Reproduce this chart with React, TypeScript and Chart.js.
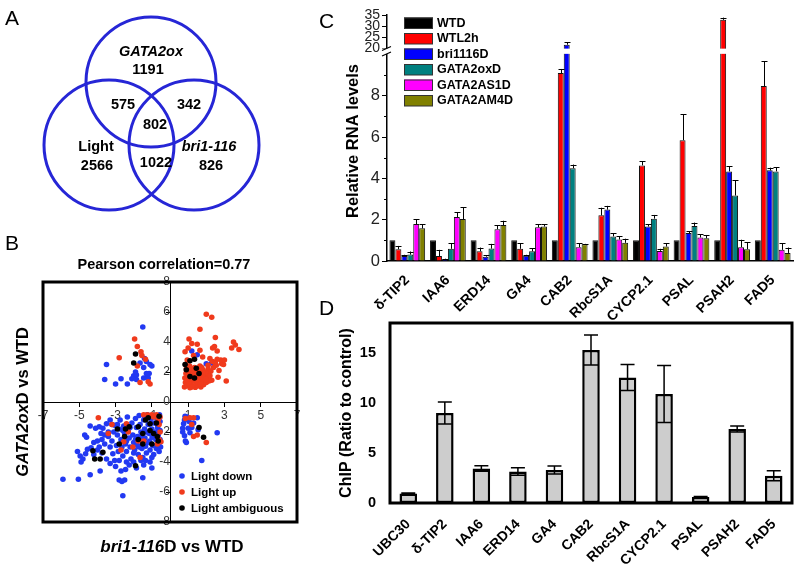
import React, { useEffect, useRef } from 'react';
import { Chart, registerables, LinearScale } from 'chart.js';

Chart.register(...registerables);

const FONT = '"Liberation Sans", Arial, Helvetica, sans-serif';

// ---------------- Panel A (Venn) data ----------------
const vennSetNames = ['GATA2ox', 'Light', 'bri1-116'];
const vennSetItalic = [true, false, true];
// regions: GATA2ox only, GATA2ox&Light, GATA2ox&bri, all three, Light only, Light&bri, bri only
const vennRegionCounts = [1191, 575, 342, 802, 2566, 1022, 826];

// ---------------- Panel B (scatter) data ----------------
const pearsonR = 0.77;
const scatterSeriesNames = ['Light down', 'Light up', 'Light ambiguous'];
const lightDown: number[][] = [
  [-1.5, 5.0], [-3.5, 2.5], [-3.6, 1.5], [-3.0, 1.2], [-2.7, 1.55], [-2.35, 1.2], [-2.1, 1.55], [-2.0, 1.75],
  [-1.85, 1.8], [-1.9, 2.0], [-1.65, 2.6], [-1.4, 2.9], [-1.3, 2.7], [-1.1, 2.5], [-1.45, 2.3], [-1.45, 1.6],
  [-1.25, 1.75], [-1.15, 1.9], [-1.2, 1.6], [-1.85, 1.5], [-1.0, 2.4], [-1.3, 1.9],
  [1.2, 3.4], [2.3, 2.6], [2.0, 2.55], [1.5, 3.15],
  [0.83, -0.95], [0.8, -1.2], [0.75, -1.45], [0.7, -1.75], [0.7, -2.0], [0.8, -2.25], [0.85, -2.6], [0.9, -2.7],
  [1.0, -1.75], [1.1, -2.05], [1.2, -1.7], [1.3, -1.4], [1.5, -1.05], [1.55, -1.85], [2.6, -2.05], [1.75, -3.9],
  [1.05, -1.3], [0.95, -1.0],
  [-5.9, -5.15], [-5.05, -5.15], [-4.4, -4.85], [-3.85, -4.6], [-2.6, -6.25], [-2.8, -5.2], [-2.65, -5.3], [-2.5, -5.2],
  [-1.5, -5.05], [-4.9, -4.0], [-5.1, -3.3], [-4.95, -3.6], [-4.8, -3.8], [-4.65, -3.45], [-4.55, -3.15], [-4.35, -3.05],
  [-4.2, -3.5], [-4.0, -3.2], [-3.75, -3.4], [-3.5, -3.8], [-3.3, -4.1], [-3.05, -3.9], [-3.0, -4.3], [-2.7, -4.6],
  [-2.45, -4.5], [-2.25, -4.2], [-1.85, -4.4], [-1.45, -4.2], [-1.35, -3.9], [-1.1, -4.0], [-1.0, -3.7], [-1.0, -4.4],
  [-4.7, -2.2], [-4.6, -2.35], [-4.4, -1.6], [-4.1, -1.75], [-3.9, -1.65], [-3.7, -1.75], [-3.5, -1.45], [-3.2, -1.5],
  [-3.05, -1.55], [-2.8, -1.8], [-4.2, -2.7], [-4.0, -2.6], [-3.75, -2.5], [-3.6, -2.8], [-3.4, -2.3], [-3.2, -2.6],
  [-3.1, -2.0], [-2.9, -2.2], [-2.95, -2.9], [-2.85, -3.3], [-2.75, -1.2], [-2.7, -2.5], [-2.65, -3.0], [-2.6, -3.6],
  [-2.55, -1.6], [-2.5, -2.1], [-2.45, -2.8], [-2.4, -3.3], [-2.35, -1.0], [-2.3, -1.9], [-2.25, -2.4], [-2.2, -3.0],
  [-2.15, -3.8], [-2.1, -1.4], [-2.05, -2.2], [-2.0, -2.7], [-1.95, -3.2], [-1.9, -1.1], [-1.85, -1.7], [-1.8, -2.3],
  [-1.78, -2.9], [-1.75, -3.5], [-1.7, -0.9], [-1.65, -1.5], [-1.6, -2.0], [-1.58, -2.6], [-1.55, -3.1], [-1.5, -3.7],
  [-1.45, -1.2], [-1.4, -1.8], [-1.38, -2.4], [-1.35, -2.95], [-1.3, -3.4], [-1.25, -0.85], [-1.2, -1.5], [-1.15, -2.1],
  [-1.12, -2.6], [-1.1, -3.2], [-1.05, -1.1], [-1.0, -1.8], [-0.98, -2.35], [-0.95, -2.9], [-0.9, -3.5], [-0.88, -0.9],
  [-0.85, -1.4], [-0.8, -2.0], [-0.78, -2.5], [-0.75, -3.1], [-0.7, -1.1], [-0.68, -1.7], [-0.65, -2.2], [-0.62, -2.8],
  [-0.6, -3.3], [-0.58, -0.85], [-0.55, -1.3], [-0.55, -1.9], [-0.55, -2.5], [-0.52, -3.0], [-2.6, -1.9], [-2.2, -1.7],
  [-1.9, -2.5], [-1.6, -2.3], [-1.3, -2.0], [-1.0, -1.4], [-0.7, -1.5], [-2.4, -2.6], [-2.0, -3.4], [-1.7, -3.0],
  [-1.2, -2.7], [-0.9, -2.2], [-3.3, -3.0], [-3.15, -3.45], [-2.8, -3.9], [-2.4, -4.0], [-2.0, -4.0], [-1.6, -3.9],
  [-3.4, -2.0], [-3.6, -2.2], [-3.8, -2.1], [-3.9, -3.0], [-3.3, -1.2], [-2.9, -1.5], [-1.4, -1.0], [-1.1, -1.05],
  [-0.85, -1.0],
];
const lightUp: number[][] = [
  [-1.95, 4.2], [-1.8, 3.7], [-1.6, 3.35], [-1.55, 3.1], [-1.35, 2.85], [-2.8, 2.95], [-1.8, 2.4], [-1.65, 1.3],
  [-1.2, 1.35], [-1.1, 1.2],
  [2.0, 5.85], [2.3, 5.65], [1.65, 4.85], [2.5, 4.3], [1.05, 4.2], [1.2, 3.9], [1.5, 3.85], [0.83, 3.35],
  [1.65, 3.45], [2.35, 3.6], [2.45, 3.7], [2.6, 3.4], [3.5, 4.0], [3.6, 3.8], [3.4, 3.6], [3.8, 3.5],
  [3.1, 1.4], [2.65, 1.65], [2.3, 1.45], [2.7, 2.1], [2.55, 2.45], [2.85, 2.55], [2.95, 2.5], [2.35, 2.7],
  [2.1, 2.2], [1.9, 1.9], [1.7, 1.7], [2.8, 2.8], [2.6, 2.85], [3.0, 2.8], [1.3, 3.1], [1.0, 3.6],
  [0.95, 2.8], [1.8, 3.0], [2.2, 2.9],
  [0.8, 1.0], [0.85, 1.3], [0.82, 1.6], [0.88, 1.9], [0.9, 2.2], [0.95, 1.1], [1.0, 1.45], [1.02, 1.75],
  [1.05, 2.05], [1.08, 2.4], [1.1, 0.95], [1.12, 1.25], [1.15, 1.55], [1.18, 1.85], [1.2, 2.15], [1.25, 1.05],
  [1.28, 1.4], [1.3, 1.7], [1.32, 2.0], [1.35, 2.3], [1.4, 0.98], [1.42, 1.3], [1.45, 1.6], [1.48, 1.9],
  [1.5, 2.2], [1.55, 1.1], [1.58, 1.45], [1.6, 1.75], [1.62, 2.05], [1.65, 2.4], [1.7, 1.0], [1.72, 1.3],
  [1.75, 1.55], [1.78, 1.85], [1.8, 2.15], [1.85, 1.15], [1.88, 1.45], [1.9, 1.7], [1.95, 2.0], [2.0, 1.3],
  [2.05, 1.6], [2.1, 1.9], [2.15, 1.4], [2.2, 1.75], [2.25, 2.05], [0.87, 2.5], [0.92, 1.45], [1.05, 1.2],
  [1.22, 1.0], [1.38, 1.5], [1.52, 1.35], [1.68, 1.2], [1.82, 1.6], [1.97, 1.5], [1.12, 1.7], [1.27, 1.9],
  [1.43, 2.05], [1.6, 1.9], [1.75, 2.3], [2.4, 2.3], [2.5, 2.6], [2.1, 2.45],
  [-3.95, -1.05], [-3.2, -1.5], [-3.4, -2.1], [-1.65, -3.7], [-2.55, -2.65], [-2.4, -1.45], [-1.45, -0.85], [-1.25, -0.85],
  [-1.0, -0.85], [-0.75, -0.85], [-0.55, -1.0], [-0.6, -1.5], [-0.55, -2.0], [-0.6, -2.5], [-0.7, -2.8], [-0.5, -2.65],
  [-2.3, -2.0], [-2.05, -3.0], [-2.7, -3.2], [-1.75, -2.6], [-1.45, -2.6], [-0.9, -1.0], [-1.15, -0.9], [-0.65, -1.2],
  [0.85, -1.1], [1.1, -1.05], [1.3, -1.05], [1.2, -1.5], [1.3, -2.3], [1.5, -2.2], [2.0, -2.7],
];
const lightAmbiguous: number[][] = [
  [-1.9, 3.2], [-2.0, 2.6],
  [0.83, 2.5], [1.1, 2.75], [1.35, 2.85], [0.9, 2.15], [1.45, 2.25], [1.6, 1.9], [1.1, 1.7], [1.35, 1.6],
  [-4.25, -3.25], [-3.85, -3.8], [-4.15, -3.8], [-3.7, -3.35], [-1.9, -4.25], [-2.9, -1.8], [-2.45, -1.8], [-2.25, -1.65],
  [-1.75, -1.65], [-1.35, -1.2], [-1.1, -1.45], [-0.75, -1.4], [-1.1, -1.9], [-1.5, -2.1], [-1.75, -2.5], [-0.9, -2.1],
  [-0.7, -2.3], [-1.5, -2.8], [-1.0, -2.8], [-0.65, -2.6], [-2.5, -2.3], [-2.8, -2.8], [-0.6, -0.95], [-1.2, -1.05],
  [1.6, -1.7], [1.85, -2.35],
];

// ---------------- Panel C (relative RNA levels) data ----------------
const rnaGenes = ['δ-TIP2', 'IAA6', 'ERD14', 'GA4', 'CAB2', 'RbcS1A', 'CYCP2.1', 'PSAL', 'PSAH2', 'FAD5'];
const rnaSeriesNames = ['WTD', 'WTL2h', 'bri1116D', 'GATA2oxD', 'GATA2AS1D', 'GATA2AM4D'];
const rnaWTD = [1, 1, 1, 1, 1, 1, 1, 1, 1, 1];
const rnaWTDErr = [0, 0, 0, 0, 0, 0, 0, 0, 0, 0];
const rnaWTL2h = [0.57, 0.24, 0.47, 0.59, 9.1, 2.21, 4.63, 5.85, 32.8, 8.47];
const rnaWTL2hErr = [0.16, 0.3, 0.18, 0.28, 0.2, 0.37, 0.21, 1.26, 1.0, 1.2];
const rnaBri = [0.24, 0.08, 0.21, 0.26, 21.5, 2.49, 1.67, 1.35, 4.34, 4.39];
const rnaBriErr = [0.06, 0.03, 0.08, 0.04, 1.2, 0.18, 0.1, 0.08, 0.26, 0.13];
const rnaGata2ox = [0.31, 0.59, 0.6, 0.47, 4.49, 1.19, 2.05, 1.7, 3.17, 4.34];
const rnaGata2oxErr = [0.15, 0.28, 0.23, 0.15, 0.18, 0.16, 0.18, 0.16, 0.73, 0.21];
const rnaAS1D = [1.79, 2.13, 1.54, 1.63, 0.67, 1.04, 0.49, 1.14, 0.67, 0.54];
const rnaAS1DErr = [0.24, 0.24, 0.18, 0.15, 0.2, 0.15, 0.1, 0.16, 0.36, 0.33];
const rnaAM4D = [1.58, 2.03, 1.74, 1.67, 0.81, 0.88, 0.7, 1.1, 0.57, 0.39];
const rnaAM4DErr = [0.21, 0.57, 0.21, 0.1, 0.02, 0.2, 0.16, 0.16, 0.33, 0.26];
const rnaYTicks = [0, 2, 4, 6, 8, 20, 25, 30, 35];
const rnaMinorTicks = [1, 3, 5, 7, 9];

// ---------------- Panel D (ChIP) data ----------------
const chipGenes = ['UBC30', 'δ-TIP2', 'IAA6', 'ERD14', 'GA4', 'CAB2', 'RbcS1A', 'CYCP2.1', 'PSAL', 'PSAH2', 'FAD5'];
const chipValues = [0.95, 9.0, 3.45, 3.15, 3.3, 15.3, 12.55, 10.9, 0.6, 7.4, 2.72];
const chipErrors = [0.05, 1.1, 0.27, 0.38, 0.4, 1.5, 1.3, 2.85, 0.05, 0.3, 0.5];
const chipYTicks = [0, 5, 10, 15];

// ---------------- styles / layout ----------------
const VENN_BLUE = '#2626d6';
const VENN_R = 65;
const vennCircleCenters = [{ x: 151, y: 82 }, { x: 109, y: 145 }, { x: 194, y: 145 }];
const vennSetNamePos = [[151, 52], [96, 147], [209, 147]];
const vennCountPos = [[148, 70], [123, 105], [189, 105], [155, 125], [97, 166], [156, 163], [211, 166]];

const SCATTER_COLORS = ['#2239f2', '#f03a1c', '#000000'];
const RNA_COLORS = ['#000000', '#ff0000', '#0000ff', '#008080', '#ff00ff', '#808000'];

// broken axis layout for panel C: value ranges and pixel weights
const BREAK_LAYOUT = [
  { from: 0, to: 10, weight: 206.5 },
  { from: 10, to: 20, weight: 6.5 },
  { from: 20, to: 35, weight: 33 },
];

class BrokenLinearScale extends (LinearScale as any) {
  static id = 'brokenLinear';
  getPixelForValue(value: number) {
    const total = BREAK_LAYOUT.reduce((a, s) => a + s.weight, 0);
    let acc = 0;
    for (let i = 0; i < BREAK_LAYOUT.length; i++) {
      const s = BREAK_LAYOUT[i];
      if (value <= s.to || i === BREAK_LAYOUT.length - 1) {
        acc += ((value - s.from) / (s.to - s.from)) * s.weight;
        break;
      }
      acc += s.weight;
    }
    const self: any = this;
    return self.bottom - (acc / total) * (self.bottom - self.top);
  }
  getValueForPixel(pixel: number) {
    const self: any = this;
    const total = BREAK_LAYOUT.reduce((a, s) => a + s.weight, 0);
    const w = ((self.bottom - pixel) / (self.bottom - self.top)) * total;
    let acc = 0;
    for (let i = 0; i < BREAK_LAYOUT.length; i++) {
      const s = BREAK_LAYOUT[i];
      if (w <= acc + s.weight || i === BREAK_LAYOUT.length - 1) {
        return s.from + ((w - acc) / s.weight) * (s.to - s.from);
      }
      acc += s.weight;
    }
    return 0;
  }
}
Chart.register(BrokenLinearScale as any);

function drawMixed(ctx: CanvasRenderingContext2D, parts: [string, boolean][], cx: number, cy: number, size: number, rotate: boolean) {
  ctx.save();
  ctx.translate(cx, cy);
  if (rotate) ctx.rotate(-Math.PI / 2);
  const fonts = parts.map(([, it]) => `${it ? 'italic ' : ''}bold ${size}px ${FONT}`);
  let total = 0;
  const widths = parts.map(([t], i) => {
    ctx.font = fonts[i];
    const w = ctx.measureText(t).width;
    total += w;
    return w;
  });
  let x = -total / 2;
  ctx.textBaseline = 'middle';
  ctx.textAlign = 'left';
  ctx.fillStyle = '#000';
  parts.forEach(([t], i) => {
    ctx.font = fonts[i];
    ctx.fillText(t, x, 0);
    x += widths[i];
  });
  ctx.restore();
}

const toPts = (arr: number[][]) => arr.map(([x, y]) => ({ x, y }));

function vennConfig(): any {
  const labelsPlugin = {
    id: 'vennLabels',
    afterDatasetsDraw(chart: any) {
      const { ctx } = chart;
      const sx = chart.scales.x;
      const sy = chart.scales.y;
      ctx.save();
      ctx.fillStyle = '#000';
      ctx.textAlign = 'center';
      ctx.textBaseline = 'middle';
      vennSetNames.forEach((n, i) => {
        ctx.font = `${vennSetItalic[i] ? 'italic ' : ''}bold 14.5px ${FONT}`;
        ctx.fillText(n, sx.getPixelForValue(vennSetNamePos[i][0]), sy.getPixelForValue(vennSetNamePos[i][1]));
      });
      ctx.font = `bold 14.5px ${FONT}`;
      vennRegionCounts.forEach((c, i) => {
        ctx.fillText(String(c), sx.getPixelForValue(vennCountPos[i][0]), sy.getPixelForValue(vennCountPos[i][1]));
      });
      ctx.restore();
    },
  };
  return {
    type: 'scatter',
    data: {
      datasets: [
        {
          label: 'sets',
          data: vennCircleCenters,
          pointRadius: (c: any) => {
            const s = c.chart.scales.x;
            return s.getPixelForValue(VENN_R) - s.getPixelForValue(0);
          },
          pointBorderWidth: 3,
          pointBorderColor: VENN_BLUE,
          pointBackgroundColor: 'rgba(0,0,0,0)',
          clip: false,
        },
      ],
    },
    options: {
      responsive: false,
      animation: false,
      devicePixelRatio: 1,
      events: [],
      layout: { padding: 0 },
      scales: {
        x: { type: 'linear', min: 0, max: 300, display: false },
        y: { type: 'linear', min: 0, max: 240, reverse: true, display: false },
      },
      plugins: { legend: { display: false }, tooltip: { enabled: false } },
    },
    plugins: [labelsPlugin],
  };
}

function scatterConfig(): any {
  const deco = {
    id: 'scatterDeco',
    afterDraw(chart: any) {
      const { ctx, chartArea: a } = chart;
      ctx.save();
      ctx.strokeStyle = '#000';
      ctx.lineWidth = 3;
      ctx.strokeRect(a.left, a.top, a.right - a.left, a.bottom - a.top);
      // title
      ctx.fillStyle = '#000';
      ctx.textAlign = 'center';
      ctx.textBaseline = 'middle';
      ctx.font = `bold 14.5px ${FONT}`;
      ctx.fillText(`Pearson correlation=${pearsonR}`, 164, 25);
      // legend
      ctx.font = `bold 11.5px ${FONT}`;
      ctx.textAlign = 'left';
      chart.data.datasets.forEach((ds: any, i: number) => {
        const y = 236 + i * 16;
        ctx.fillStyle = ds.backgroundColor;
        ctx.beginPath();
        ctx.arc(182, y, 2.8, 0, Math.PI * 2);
        ctx.fill();
        ctx.fillStyle = '#000';
        ctx.fillText(ds.label, 191, y + 0.5);
      });
      ctx.restore();
      drawMixed(ctx, [['bri1-116', true], ['D vs WTD', false]], 172, 307, 17, false);
      drawMixed(ctx, [['GATA2ox', true], ['D vs WTD', false]], 23, 162, 16.5, true);
    },
  };
  const mk = (i: number, data: number[][]) => ({
    label: scatterSeriesNames[i],
    data: toPts(data),
    backgroundColor: SCATTER_COLORS[i],
    borderColor: SCATTER_COLORS[i],
    pointRadius: 2.8,
    pointBorderWidth: 0,
    order: 3 - i,
  });
  const tickFont = { family: FONT, size: 12 };
  return {
    type: 'scatter',
    data: { datasets: [mk(0, lightDown), mk(1, lightUp), mk(2, lightAmbiguous)] },
    options: {
      responsive: false,
      animation: false,
      devicePixelRatio: 1,
      events: [],
      layout: { padding: { left: 43, top: 42, right: 23, bottom: 46 } },
      scales: {
        x: {
          type: 'linear',
          min: -7,
          max: 7,
          position: { y: 0 },
          grid: { display: true, drawOnChartArea: false, drawTicks: true, tickLength: 4, color: '#000' },
          border: { display: true, color: '#000', width: 1 },
          ticks: { stepSize: 2, font: tickFont, color: '#333', padding: 2, autoSkip: false, maxRotation: 0 },
        },
        y: {
          type: 'linear',
          min: -8,
          max: 8,
          position: { x: 0 },
          grid: { display: true, drawOnChartArea: false, drawTicks: true, tickLength: 4, color: '#000' },
          border: { display: true, color: '#000', width: 1 },
          ticks: { stepSize: 2, font: tickFont, color: '#333', padding: 2, autoSkip: false },
        },
      },
      plugins: { legend: { display: false }, tooltip: { enabled: false } },
    },
    plugins: [deco],
  };
}

function rnaConfig(): any {
  const values = [rnaWTD, rnaWTL2h, rnaBri, rnaGata2ox, rnaAS1D, rnaAM4D];
  const errs = [rnaWTDErr, rnaWTL2hErr, rnaBriErr, rnaGata2oxErr, rnaAS1DErr, rnaAM4DErr];
  const deco = {
    id: 'rnaDeco',
    afterDatasetsDraw(chart: any) {
      const { ctx, chartArea: a } = chart;
      const ys = chart.scales.y;
      ctx.save();
      // break gap across bars
      const yHi = ys.getPixelForValue(19);
      const yLo = ys.getPixelForValue(11);
      ctx.fillStyle = '#fff';
      ctx.fillRect(a.left + 1, yHi, a.right - a.left, yLo - yHi);
      // error bars (upper only)
      ctx.strokeStyle = '#000';
      ctx.lineWidth = 1;
      chart.data.datasets.forEach((ds: any, di: number) => {
        const meta = chart.getDatasetMeta(di);
        meta.data.forEach((bar: any, i: number) => {
          const e = ds.errors[i];
          if (!e) return;
          const v = ds.data[i];
          const y0 = ys.getPixelForValue(v);
          const y1 = ys.getPixelForValue(v + e);
          const x = Math.round(bar.x) + 0.5;
          ctx.beginPath();
          ctx.moveTo(x, y0);
          ctx.lineTo(x, y1);
          ctx.moveTo(x - 3, Math.round(y1) + 0.5);
          ctx.lineTo(x + 3, Math.round(y1) + 0.5);
          ctx.stroke();
        });
      });
      ctx.restore();
    },
    afterDraw(chart: any) {
      const { ctx, chartArea: a } = chart;
      const ys = chart.scales.y;
      ctx.save();
      // minor ticks
      ctx.strokeStyle = '#000';
      ctx.lineWidth = 1;
      rnaMinorTicks.forEach((v) => {
        const y = Math.round(ys.getPixelForValue(v)) + 0.5;
        ctx.beginPath();
        ctx.moveTo(a.left - 3, y);
        ctx.lineTo(a.left, y);
        ctx.stroke();
      });
      // axis break symbol
      const yHi = ys.getPixelForValue(19.2);
      const yLo = ys.getPixelForValue(10.8);
      ctx.fillStyle = '#fff';
      ctx.fillRect(a.left - 6, yHi, 8, yLo - yHi);
      ctx.lineWidth = 1.2;
      ctx.beginPath();
      ctx.moveTo(a.left - 5, yHi + 2);
      ctx.lineTo(a.left + 4, yHi - 2);
      ctx.moveTo(a.left - 5, yLo + 2);
      ctx.lineTo(a.left + 4, yLo - 2);
      ctx.stroke();
      // legend
      ctx.font = `bold 12.5px ${FONT}`;
      ctx.textBaseline = 'middle';
      ctx.textAlign = 'left';
      chart.data.datasets.forEach((ds: any, i: number) => {
        const y = 23 + i * 15.5;
        ctx.fillStyle = ds.backgroundColor;
        ctx.fillRect(74, y - 5.5, 29, 11);
        ctx.strokeStyle = '#333';
        ctx.lineWidth = 1;
        ctx.strokeRect(74.5, y - 5, 28, 10.5);
        ctx.fillStyle = '#000';
        ctx.fillText(ds.label, 107, y + 0.5);
      });
      // axis title
      ctx.font = `bold 16.5px ${FONT}`;
      ctx.translate(23, 141);
      ctx.rotate(-Math.PI / 2);
      ctx.textAlign = 'center';
      ctx.fillText('Relative RNA levels', 0, 0);
      ctx.restore();
    },
  };
  return {
    type: 'bar',
    data: {
      labels: rnaGenes,
      datasets: rnaSeriesNames.map((n, i) => ({
        label: n,
        data: values[i],
        errors: errs[i],
        backgroundColor: RNA_COLORS[i],
        borderColor: '#111',
        borderWidth: 1,
        categoryPercentage: 0.88,
        barPercentage: 1,
      })),
    },
    options: {
      responsive: false,
      animation: false,
      devicePixelRatio: 1,
      events: [],
      layout: { padding: { left: 0, top: 15, right: 7, bottom: 0 } },
      scales: {
        x: {
          grid: { display: false },
          border: { display: true, color: '#000', width: 1.5 },
          ticks: { font: { family: FONT, size: 14, weight: 'bold' }, color: '#000', minRotation: 45, maxRotation: 45, padding: 3, autoSkip: false },
          afterFit: (s: any) => { s.height = 59; },
        },
        y: {
          type: 'brokenLinear',
          min: 0,
          max: 35,
          afterBuildTicks: (s: any) => { s.ticks = rnaYTicks.map((v) => ({ value: v })); },
          grid: { display: true, drawOnChartArea: false, drawTicks: true, tickLength: 5, color: '#000', lineWidth: 1 },
          border: { display: true, color: '#000', width: 1.5 },
          ticks: {
            autoSkip: false,
            color: '#222',
            padding: 2,
            callback: (v: any) => String(v),
            font: (c: any) => ({ family: FONT, size: c.tick && c.tick.value >= 20 ? 14 : 16.5 }),
          },
          afterFit: (s: any) => { s.width = 57; },
        },
      },
      plugins: { legend: { display: false }, tooltip: { enabled: false } },
    },
    plugins: [deco],
  };
}

function chipConfig(): any {
  const deco = {
    id: 'chipDeco',
    afterDatasetsDraw(chart: any) {
      const { ctx } = chart;
      const ys = chart.scales.y;
      const ds = chart.data.datasets[0];
      const meta = chart.getDatasetMeta(0);
      ctx.save();
      ctx.strokeStyle = '#000';
      ctx.lineWidth = 1.5;
      meta.data.forEach((bar: any, i: number) => {
        const v = ds.data[i];
        const e = ds.errors[i];
        const y1 = ys.getPixelForValue(v + e);
        const y2 = ys.getPixelForValue(v - e);
        const x = bar.x;
        ctx.beginPath();
        ctx.moveTo(x, y1);
        ctx.lineTo(x, y2);
        ctx.moveTo(x - 7, y1);
        ctx.lineTo(x + 7, y1);
        ctx.moveTo(x - 7, y2);
        ctx.lineTo(x + 7, y2);
        ctx.stroke();
      });
      ctx.restore();
    },
    afterDraw(chart: any) {
      const { ctx, chartArea: a } = chart;
      ctx.save();
      ctx.strokeStyle = '#000';
      ctx.lineWidth = 3;
      ctx.strokeRect(a.left, a.top, a.right - a.left, a.bottom - a.top);
      ctx.fillStyle = '#000';
      ctx.font = `bold 16px ${FONT}`;
      ctx.textAlign = 'center';
      ctx.textBaseline = 'middle';
      ctx.translate(17, 113);
      ctx.rotate(-Math.PI / 2);
      ctx.fillText('ChIP (Ratio to control)', 0, 0);
      ctx.restore();
    },
  };
  return {
    type: 'bar',
    data: {
      labels: chipGenes,
      datasets: [
        {
          label: 'ChIP',
          data: chipValues,
          errors: chipErrors,
          backgroundColor: '#cdcdcd',
          borderColor: '#000',
          borderWidth: 2.5,
          borderSkipped: false,
          categoryPercentage: 1,
          barPercentage: 0.48,
        },
      ],
    },
    options: {
      responsive: false,
      animation: false,
      devicePixelRatio: 1,
      events: [],
      layout: { padding: { left: 0, top: 23, right: 8, bottom: 0 } },
      scales: {
        x: {
          grid: { display: false },
          border: { display: false },
          ticks: { font: { family: FONT, size: 14, weight: 'bold' }, color: '#000', minRotation: 45, maxRotation: 45, padding: 5, autoSkip: false },
          afterFit: (s: any) => { s.height = 65; },
        },
        y: {
          min: 0,
          max: 18,
          afterBuildTicks: (s: any) => { s.ticks = chipYTicks.map((v) => ({ value: v })); },
          grid: { display: false, drawTicks: false },
          border: { display: false },
          ticks: { font: { family: FONT, size: 14.5, weight: 'bold' }, color: '#000', padding: 14, callback: (v: any) => String(v) },
          afterFit: (s: any) => { s.width = 60; },
        },
      },
      plugins: { legend: { display: false }, tooltip: { enabled: false } },
    },
    plugins: [deco],
  };
}

const letterStyle = (left: number, top: number): React.CSSProperties => ({
  position: 'absolute',
  left,
  top,
  fontFamily: FONT,
  fontSize: 21,
  lineHeight: '21px',
  color: '#000',
});

export default function App() {
  const aRef = useRef<HTMLCanvasElement>(null);
  const bRef = useRef<HTMLCanvasElement>(null);
  const cRef = useRef<HTMLCanvasElement>(null);
  const dRef = useRef<HTMLCanvasElement>(null);

  useEffect(() => {
    const charts = [
      new Chart(aRef.current as any, vennConfig()),
      new Chart(bRef.current as any, scatterConfig()),
      new Chart(cRef.current as any, rnaConfig()),
      new Chart(dRef.current as any, chipConfig()),
    ];
    return () => charts.forEach((c) => c.destroy());
  }, []);

  const cs = (left: number, top: number, w: number, h: number): React.CSSProperties => ({
    position: 'absolute', left, top, width: w, height: h,
  });

  return (
    <div style={{ position: 'fixed', left: 0, top: 0, width: 800, height: 568, background: '#fff', overflow: 'hidden' }}>
      <canvas ref={aRef} width={300} height={240} style={cs(0, 0, 300, 240)} />
      <canvas ref={bRef} width={320} height={328} style={cs(0, 240, 320, 328)} />
      <canvas ref={cRef} width={470} height={320} style={cs(330, 0, 470, 320)} />
      <canvas ref={dRef} width={470} height={268} style={cs(330, 300, 470, 268)} />
      <div style={letterStyle(5, 7)}>A</div>
      <div style={letterStyle(5, 232)}>B</div>
      <div style={letterStyle(319, 10)}>C</div>
      <div style={letterStyle(319, 297)}>D</div>
    </div>
  );
}
